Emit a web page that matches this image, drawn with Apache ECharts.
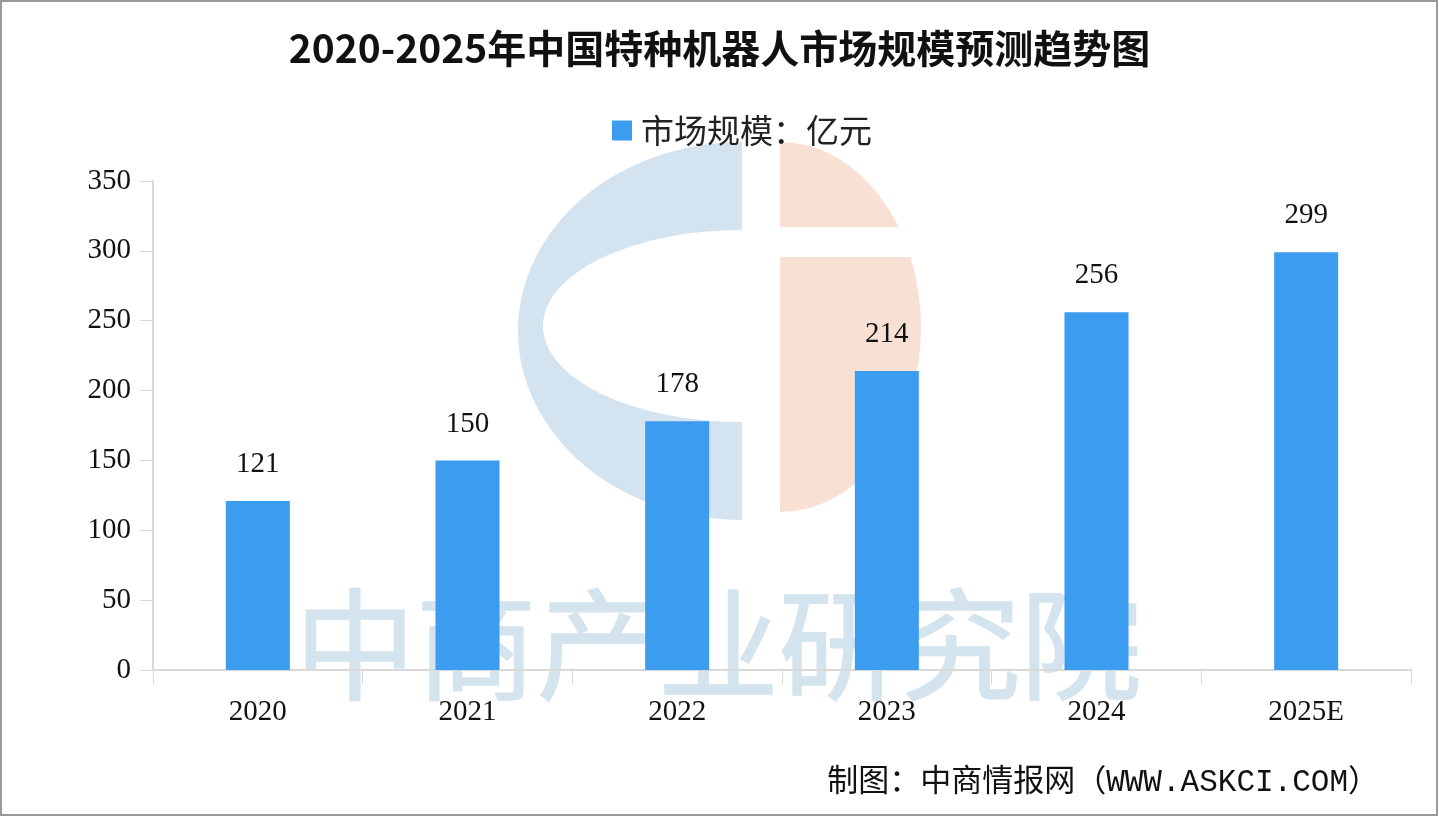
<!DOCTYPE html>
<html>
<head>
<meta charset="utf-8">
<style>
html,body{margin:0;padding:0;background:#fff;}
#chart{width:1439px;height:817px;}
</style>
<script src="https://cdn.jsdelivr.net/npm/echarts@6/dist/echarts.min.js"></script>
</head>
<body>
<div id="chart"></div>
<script>
const titleText = '2020-2025年中国特种机器人市场规模预测趋势图';
const seriesName = '市场规模：亿元';
const categories = ['2020', '2021', '2022', '2023', '2024', '2025E'];
const values = [121, 150, 178, 214, 256, 299];
const yTicks = [0, 50, 100, 150, 200, 250, 300, 350];
const footerText = '制图：中商情报网（WWW.ASKCI.COM）';
const watermarkText = '中商产业研究院';

const chart = echarts.init(document.getElementById('chart'));
const numFont = '"Liberation Serif", "Times New Roman", serif';
const cjkFont = '"Noto Sans CJK SC", "Noto Sans", sans-serif';
const monoCjkFont = '"Liberation Mono", "Noto Sans CJK SC", monospace';

chart.setOption({
  backgroundColor: '#ffffff',
  animation: false,
  title: {
    text: titleText,
    left: 'center',
    top: 24,
    textStyle: {
      fontFamily: cjkFont,
      fontWeight: 'bold',
      fontSize: 39,
      color: '#111111'
    }
  },
  legend: {
    data: [seriesName],
    top: 114,
    left: 612,
    padding: 0,
    itemWidth: 20,
    itemHeight: 20,
    itemGap: 10,
    icon: 'rect',
    textStyle: {
      fontFamily: cjkFont,
      fontSize: 33,
      color: '#222222',
      padding: [0, 0, 0, 4]
    }
  },
  grid: {
    left: 153,
    right: 28,
    top: 181,
    bottom: 147,
    containLabel: false
  },
  xAxis: {
    type: 'category',
    data: categories,
    axisLine: { show: true, lineStyle: { color: '#d9d9d9', width: 2 } },
    axisTick: { show: true, length: 14, lineStyle: { color: '#d9d9d9', width: 1 } },
    axisLabel: {
      margin: 28,
      fontFamily: numFont,
      fontSize: 29,
      color: '#111111'
    }
  },
  yAxis: {
    type: 'value',
    min: yTicks[0],
    max: yTicks[yTicks.length - 1],
    interval: yTicks[1] - yTicks[0],
    axisLine: { show: true, lineStyle: { color: '#d9d9d9', width: 2 } },
    axisTick: { show: true, length: 13, lineStyle: { color: '#d9d9d9', width: 1 } },
    splitLine: { show: false },
    axisLabel: {
      margin: 22,
      fontFamily: numFont,
      fontSize: 29,
      color: '#111111'
    }
  },
  series: [{
    name: seriesName,
    type: 'bar',
    data: values,
    barWidth: 64,
    z: 5,
    itemStyle: { color: '#3c9cf0' },
    label: {
      show: true,
      position: 'top',
      distance: 22,
      fontFamily: numFont,
      fontSize: 29,
      color: '#111111'
    }
  }],
  graphic: [
    {
      type: 'group',
      z: -10,
      silent: true,
      children: [
        {
          type: 'sector',
          shape: { cx: 0, cy: 0, r: 1, r0: 0, startAngle: Math.PI / 2, endAngle: Math.PI * 1.5 },
          x: 742, y: 331, scaleX: 224, scaleY: 189,
          style: { fill: '#d3e3ef' }
        },
        {
          type: 'circle',
          shape: { cx: 0, cy: 0, r: 1 },
          x: 742, y: 326, scaleX: 199, scaleY: 96,
          style: { fill: '#ffffff' }
        },
        {
          type: 'sector',
          shape: { cx: 0, cy: 0, r: 1, r0: 0, startAngle: -Math.PI / 2, endAngle: Math.PI / 2 },
          x: 780, y: 327, scaleX: 141, scaleY: 185,
          style: { fill: '#f9e0d4' }
        },
        {
          type: 'rect',
          shape: { x: 776, y: 227, width: 150, height: 30 },
          style: { fill: '#ffffff' }
        }
      ]
    },
    {
      type: 'text',
      z: -9,
      silent: true,
      left: 294,
      top: 583,
      style: {
        text: watermarkText,
        fontFamily: cjkFont,
        fontSize: 121,
        fill: '#d4e4ef',
        stroke: '#d4e4ef',
        lineWidth: 1.5
      }
    },
    {
      type: 'text',
      right: 60,
      top: 767,
      style: {
        text: footerText,
        fontFamily: monoCjkFont,
        fontSize: 31,
        fill: '#111111'
      }
    },
    {
      type: 'rect',
      silent: true,
      shape: { x: 1, y: 1, width: 1436, height: 814 },
      style: { fill: 'none', stroke: '#9a9a9a', lineWidth: 2 }
    }
  ]
});
</script>
</body>
</html>
